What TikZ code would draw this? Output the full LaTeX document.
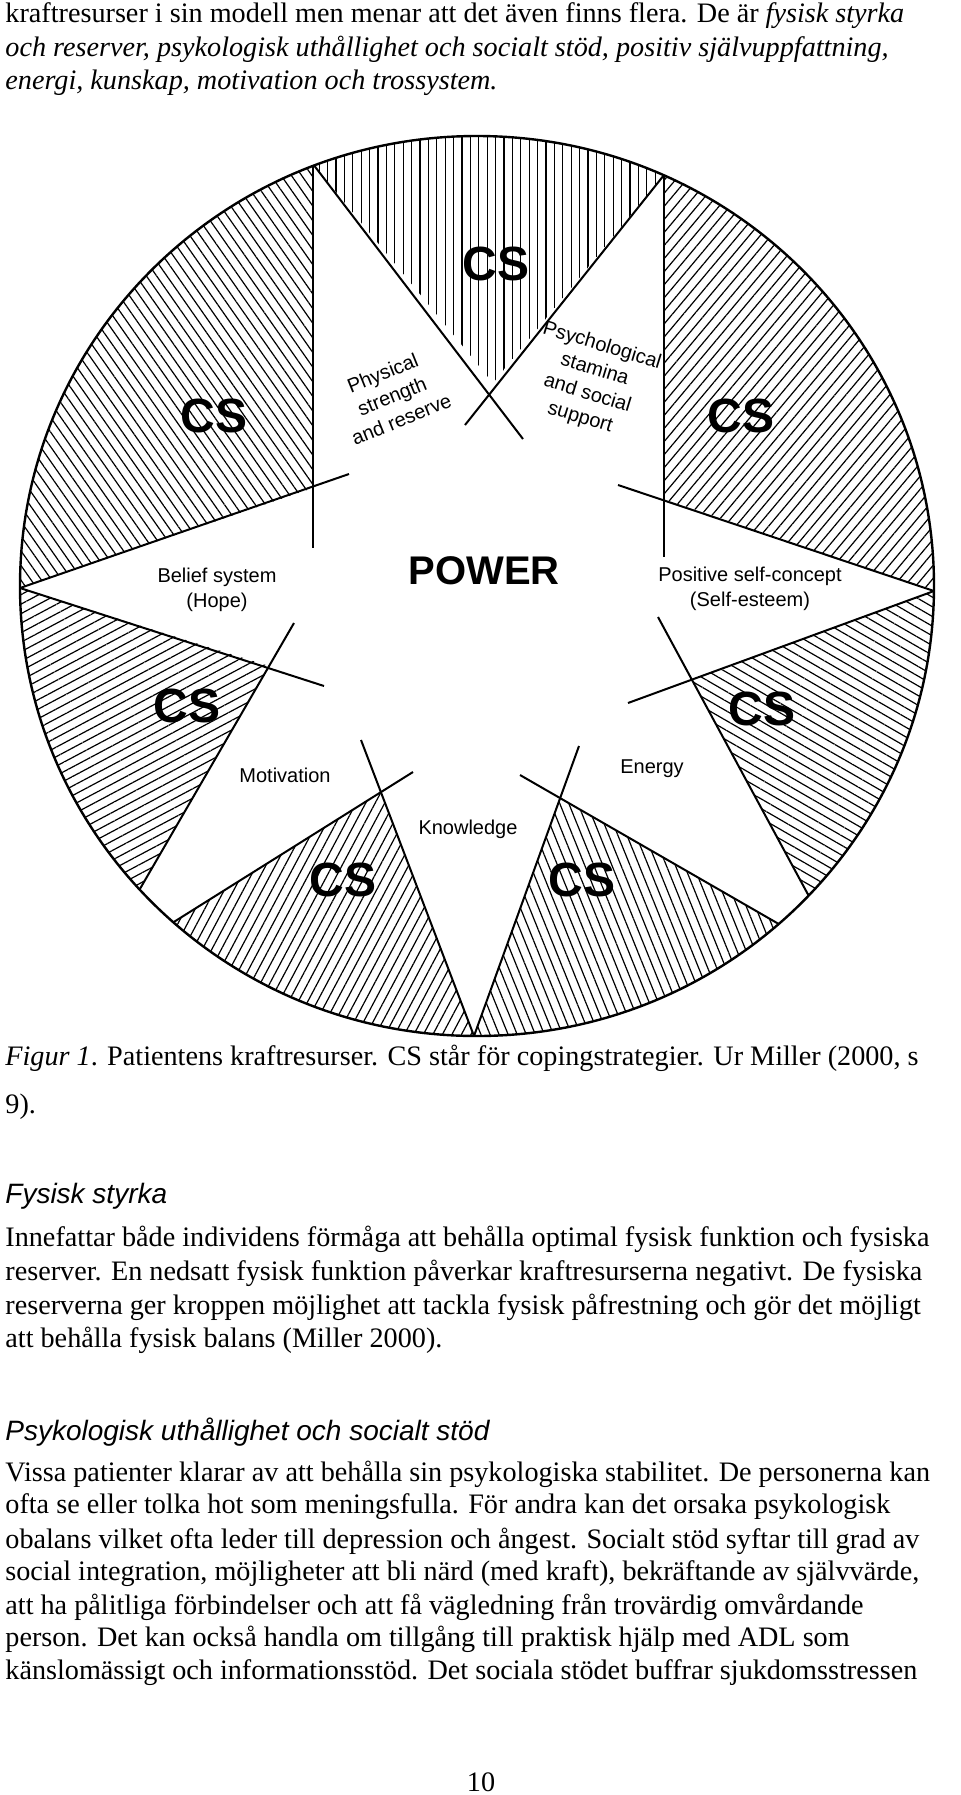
\documentclass[tikz,border=0pt]{standalone}
\usepackage{fontspec}
\setmainfont{Liberation Serif}
\newfontfamily\arial{Liberation Sans}
\usetikzlibrary{patterns.meta}
\tikzset{
  hatch/.style={pattern={Lines[angle=#1,distance=4.2pt,line width=0.6pt]}},
  sector/.style={line width=1pt},
  cslabel/.style={font=\arial\bfseries\fontsize{24}{24}\selectfont},
  small/.style={font=\arial\fontsize{10}{12.5}\selectfont,align=center,inner sep=0pt},
  txt/.style={anchor=west,inner sep=0pt,font=\fontsize{14.1}{16}\selectfont},
  head/.style={anchor=west,inner sep=0pt,font=\arial\itshape\fontsize{14}{16}\selectfont}
}
\begin{document}
\begin{tikzpicture}[x=0.5pt,y=-0.5pt]
\useasboundingbox (0,0) rectangle (960,1795);
% text above the figure
\node[txt] (t1) at (5,16) {kraftresurser i sin modell men menar att det även finns flera. De är \textit{fysisk styrka}};
\node[txt] (t2) at (5,49) {\textit{och reserver, psykologisk uthållighet och socialt stöd, positiv självuppfattning,}};
\node[txt] (t3) at (5,83) {\textit{energi, kunskap, motivation och trossystem.}};
% the wheel
\coordinate (c) at (477,586);
\coordinate (ptl) at (313,164);   \coordinate (ptr) at (664,175);
\coordinate (pl) at (20,588);     \coordinate (pr) at (934,591);
\coordinate (pb) at (474,1036);
\coordinate (xtop) at (493,383);
\coordinate (xl) at (313,488);    \coordinate (xr) at (664,499);
\coordinate (xll) at (269,666);   \coordinate (xlr) at (692,680);
\coordinate (xbl) at (381,792);   \coordinate (xbr) at (560,798);
\coordinate (all) at (137,894);   \coordinate (abl) at (169,925);
\coordinate (abr) at (784,927);   \coordinate (alr) at (811,900);
\begin{scope}
  \clip (c) ellipse (457 and 450);
  \fill[hatch=90] (ptl) -- (xtop) -- (ptr) -- (664,-50) -- (313,-50) -- cycle;
  \fill[hatch=125] (ptl) -- (xl) -- (pl) -- (-50,600) -- (-50,-50) -- (313,-50) -- cycle;
  \fill[hatch=50] (ptr) -- (xr) -- (pr) -- (1010,600) -- (1010,-50) -- (664,-50) -- cycle;
  \fill[hatch=28] (pl) -- (xll) -- (all) -- (-50,950) -- (-50,588) -- cycle;
  \fill[hatch=150] (pr) -- (xlr) -- (alr) -- (1010,950) -- (1010,591) -- cycle;
  \fill[hatch=62] (abl) -- (xbl) -- (pb) -- (471,1100) -- (100,1100) -- cycle;
  \fill[hatch=112] (abr) -- (xbr) -- (pb) -- (471,1100) -- (850,1100) -- cycle;
  \draw[sector] (ptl) -- (313,548);
  \draw[sector] (ptr) -- (664,557);
  \draw[sector] (ptl) -- (523,439);
  \draw[sector] (ptr) -- (465,425);
  \draw[sector] (pl) -- (349,474);
  \draw[sector] (pr) -- (618,485);
  \draw[sector] (pl) -- (324,686);
  \draw[sector] (294,623) -- (all);
  \draw[sector] (361,740) -- (pb);
  \draw[sector] (413,772) -- (abl);
  \draw[sector] (579,746) -- (pb);
  \draw[sector] (520,775) -- (abr);
  \draw[sector] (628,703) -- (pr);
  \draw[sector] (658,617) -- (alr);
\end{scope}
\draw[line width=1.2pt] (c) ellipse (457 and 450);
% labels
\node[cslabel] (cstop) at (496,264) {CS};
\node[cslabel] (cstl) at (214,416) {CS};
\node[cslabel] (cstr) at (741,416) {CS};
\node[cslabel] (csll) at (187,706) {CS};
\node[cslabel] (cslr) at (762,709) {CS};
\node[cslabel] (csbl) at (343,880) {CS};
\node[cslabel] (csbr) at (582,880) {CS};
\node[font=\arial\bfseries\fontsize{20}{20}\selectfont] (power) at (484,571) {POWER};
\node[small,rotate=22] (phys) at (392,396) {Physical\\strength\\and reserve};
\node[small,rotate=-17] (psych) at (591,382) {Psychological\\stamina\\and social\\support};
\node[small] (belief) at (217,590) {Belief system\\(Hope)};
\node[small] (self) at (750,589) {Positive self-concept\\(Self-esteem)};
\node[small] (motiv) at (285,775) {Motivation};
\node[small] (energy) at (652,769) {Energy};
\node[small] (know) at (468,829) {Knowledge};
% caption and text
\node[txt] (cap1) at (5,1058) {\textit{Figur 1}. Patientens kraftresurser. CS står för copingstrategier. Ur Miller (2000, s};
\node[txt] (cap2) at (5,1107) {9).};
\node[head] (h1) at (5,1196) {Fysisk styrka};
\node[txt] (p1) at (5,1239) {Innefattar både individens förmåga att behålla optimal fysisk funktion och fysiska};
\node[txt] (p2) at (5,1273) {reserver. En nedsatt fysisk funktion påverkar kraftresurserna negativt. De fysiska};
\node[txt] (p3) at (5,1307) {reserverna ger kroppen möjlighet att tackla fysisk påfrestning och gör det möjligt};
\node[txt] (p4) at (5,1340) {att behålla fysisk balans (Miller 2000).};
\node[head] (h2) at (5,1432) {Psykologisk uthållighet och socialt stöd};
\node[txt] (q1) at (5,1474) {Vissa patienter klarar av att behålla sin psykologiska stabilitet. De personerna kan};
\node[txt] (q2) at (5,1507) {ofta se eller tolka hot som meningsfulla. För andra kan det orsaka psykologisk};
\node[txt] (q3) at (5,1541) {obalans vilket ofta leder till depression och ångest. Socialt stöd syftar till grad av};
\node[txt] (q4) at (5,1574) {social integration, möjligheter att bli närd (med kraft), bekräftande av självvärde,};
\node[txt] (q5) at (5,1607) {att ha pålitliga förbindelser och att få vägledning från trovärdig omvårdande};
\node[txt] (q6) at (5,1639) {person. Det kan också handla om tillgång till praktisk hjälp med ADL som};
\node[txt] (q7) at (5,1673) {känslomässigt och informationsstöd. Det sociala stödet buffrar sjukdomsstressen};
\node[font=\fontsize{14.1}{16}\selectfont] (page) at (481,1782) {10};
\end{tikzpicture}
\end{document}
